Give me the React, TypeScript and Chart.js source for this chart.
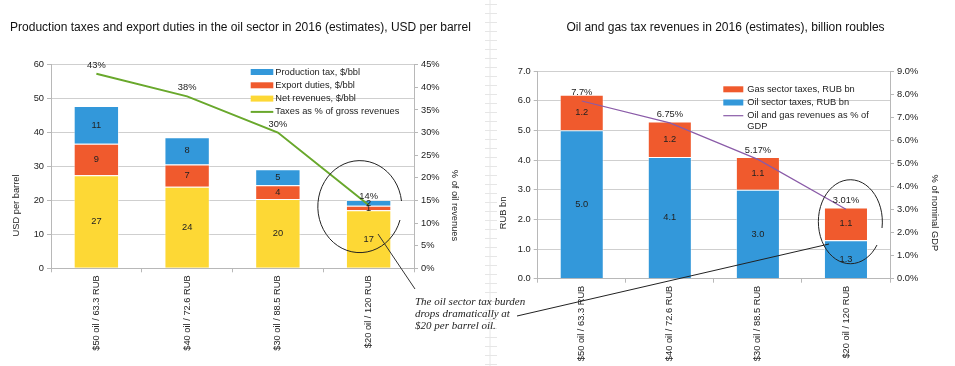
import React, { useEffect, useRef } from "react";
import { Chart, registerables } from "chart.js";

Chart.register(...registerables);

const FONT = '"Liberation Sans", Arial, Helvetica, sans-serif';
Chart.defaults.font.family = FONT;

// ---------- Left chart: USD per barrel ----------
const oilScenarios = ["$50 oil / 63.3 RUB", "$40 oil / 72.6 RUB", "$30 oil / 88.5 RUB", "$20 oil / 120 RUB"];
const netRevenues = [27.4, 24.0, 20.4, 17.1];
const exportDuties = [9.3, 6.6, 4.1, 1.3];
const productionTax = [11.1, 8.0, 4.7, 1.7];
const taxesShareOfRevenues = [43, 38, 30, 14];
const usdTicks = [0, 10, 20, 30, 40, 50, 60];
const revenueShareTicks = [0, 5, 10, 15, 20, 25, 30, 35, 40, 45];

// ---------- Right chart: billion roubles ----------
const oilSectorTaxes = [5.0, 4.1, 3.0, 1.3];
const gasSectorTaxes = [1.2, 1.2, 1.1, 1.1];
const revenuesShareOfGdp = [7.7, 6.75, 5.17, 3.01];
const rubTicks = [0, 1, 2, 3, 4, 5, 6, 7];
const gdpShareTicks = [0, 1, 2, 3, 4, 5, 6, 7, 8, 9];

const BLUE = "#3398da";
const RED = "#f05a2d";
const YELLOW = "#fdd835";
const GREEN = "#69a82c";
const PURPLE = "#8a5ba8";
const GRID = "#cfcfcf";
const AXIS = "#b8b8b8";
const TEXT = "#222";
const FS = 9.3;

const tickSet = (arr: number[]) => (s: any) => {
  s.ticks = arr.map((v) => ({ value: v }));
};

function valueLabels(fmtBar: (v: number) => string, fmtLine: (v: number) => string, lift: number) {
  return {
    id: "valueLabels",
    afterDatasetsDraw(chart: any) {
      const ctx = chart.ctx;
      ctx.save();
      ctx.font = `${FS}px ${FONT}`;
      ctx.fillStyle = TEXT;
      ctx.textAlign = "center";
      ctx.textBaseline = "middle";
      chart.data.datasets.forEach((ds: any, i: number) => {
        const meta = chart.getDatasetMeta(i);
        meta.data.forEach((el: any, j: number) => {
          const v = ds.data[j] as number;
          if (ds.type === "bar") {
            const p = el.getProps(["x", "y", "base"], true);
            ctx.fillText(fmtBar(v), p.x, (p.y + p.base) / 2);
          } else {
            ctx.fillText(fmtLine(v), el.x, el.y - lift);
          }
        });
      });
      ctx.restore();
    },
  };
}

function boxLegend(o: { dx: number; dy: number; row: number; boxW: number; boxH: number; gap: number; maxW: number; lineStep: number }) {
  return {
    id: "boxLegend",
    afterDraw(chart: any) {
      const { ctx, chartArea } = chart;
      const ds = chart.data.datasets;
      const items = [...ds.filter((d: any) => d.type === "bar").reverse(), ...ds.filter((d: any) => d.type === "line")];
      const x = chartArea.right - o.dx;
      let y = chartArea.top + o.dy;
      ctx.save();
      ctx.font = `${FS}px ${FONT}`;
      ctx.textAlign = "left";
      ctx.textBaseline = "middle";
      items.forEach((d: any) => {
        if (d.type === "line") {
          ctx.strokeStyle = d.borderColor;
          ctx.lineWidth = d.borderWidth;
          ctx.beginPath();
          ctx.moveTo(x, y);
          ctx.lineTo(x + o.boxW, y);
          ctx.stroke();
        } else {
          ctx.fillStyle = d.backgroundColor;
          ctx.fillRect(x, y - o.boxH / 2, o.boxW, o.boxH);
        }
        const words = String(d.label).split(" ");
        const lines: string[] = [];
        let cur = "";
        words.forEach((w) => {
          const t = cur ? cur + " " + w : w;
          if (ctx.measureText(t).width > o.maxW && cur) {
            lines.push(cur);
            cur = w;
          } else cur = t;
        });
        lines.push(cur);
        ctx.fillStyle = TEXT;
        lines.forEach((t, k) => ctx.fillText(t, x + o.boxW + o.gap, y + k * o.lineStep));
        y += o.row + (lines.length - 1) * o.lineStep;
      });
      ctx.restore();
    },
  };
}

function axisTitles(left: string, right: string, lx: number, rx: number, dy: number) {
  return {
    id: "axisTitles",
    afterDraw(chart: any) {
      const { ctx, chartArea } = chart;
      const cy = (chartArea.top + chartArea.bottom) / 2 + dy;
      ctx.save();
      ctx.font = `${FS}px ${FONT}`;
      ctx.fillStyle = TEXT;
      ctx.textAlign = "center";
      ctx.textBaseline = "middle";
      ctx.save();
      ctx.translate(chartArea.left - lx, cy);
      ctx.rotate(-Math.PI / 2);
      ctx.fillText(left, 0, 0);
      ctx.restore();
      ctx.save();
      ctx.translate(chartArea.right + rx, cy);
      ctx.rotate(Math.PI / 2);
      ctx.fillText(right, 0, 0);
      ctx.restore();
      ctx.restore();
    },
  };
}

function baseScales(o: {
  xH: number; yW: number; y1W: number;
  yTicks: number[]; y1Ticks: number[];
  yFmt: (v: number) => string; y1Fmt: (v: number) => string;
}) {
  const tickFont = { size: FS, family: FONT };
  return {
    x: {
      stacked: true,
      grid: { drawOnChartArea: false, color: AXIS, tickLength: 4 },
      border: { color: AXIS },
      ticks: { minRotation: 90, maxRotation: 90, autoSkip: false, font: tickFont, color: TEXT, padding: 3 },
      afterFit: (s: any) => { s.height = o.xH; },
    },
    y: {
      stacked: true,
      position: "left",
      min: o.yTicks[0],
      max: o.yTicks[o.yTicks.length - 1],
      grid: { color: GRID, tickLength: 4, tickColor: AXIS },
      border: { color: AXIS },
      ticks: { font: tickFont, color: TEXT, padding: 3, callback: (v: any) => o.yFmt(Number(v)) },
      afterBuildTicks: tickSet(o.yTicks),
      afterFit: (s: any) => { s.width = o.yW; },
    },
    y1: {
      position: "right",
      min: o.y1Ticks[0],
      max: o.y1Ticks[o.y1Ticks.length - 1],
      grid: { drawOnChartArea: false, color: AXIS, tickLength: 4 },
      border: { color: AXIS },
      ticks: { font: tickFont, color: TEXT, padding: 3, callback: (v: any) => o.y1Fmt(Number(v)) },
      afterBuildTicks: tickSet(o.y1Ticks),
      afterFit: (s: any) => { s.width = o.y1W; },
    },
  };
}

const barStyle = { borderColor: "rgba(255,255,255,0.45)", borderWidth: 1, barPercentage: 0.5, categoryPercentage: 1, order: 1, yAxisID: "y" };

export default function App() {
  const leftRef = useRef<HTMLCanvasElement>(null);
  const rightRef = useRef<HTMLCanvasElement>(null);

  useEffect(() => {
    const left = new Chart(leftRef.current as HTMLCanvasElement, {
      type: "bar",
      data: {
        labels: oilScenarios,
        datasets: [
          { type: "line", label: "Taxes as % of gross revenues", data: taxesShareOfRevenues, yAxisID: "y1", borderColor: GREEN, borderWidth: 2, pointRadius: 0, fill: false, order: 0 },
          { type: "bar", label: "Net revenues, $/bbl", data: netRevenues, backgroundColor: YELLOW, ...barStyle },
          { type: "bar", label: "Export duties, $/bbl", data: exportDuties, backgroundColor: RED, ...barStyle },
          { type: "bar", label: "Production tax, $/bbl", data: productionTax, backgroundColor: BLUE, ...barStyle },
        ] as any,
      },
      options: {
        responsive: false,
        animation: false,
        layout: { padding: 0 },
        plugins: {
          legend: { display: false },
          tooltip: { enabled: false },
          title: {
            display: true,
            text: "Production taxes and export duties in the oil sector in 2016 (estimates), USD per barrel",
            font: { size: 12, family: FONT, weight: "normal" },
            color: "#111",
            padding: { top: 20, bottom: 30.3 },
          },
        },
        scales: baseScales({
          xH: 97.7, yW: 51, y1W: 67,
          yTicks: usdTicks, y1Ticks: revenueShareTicks,
          yFmt: (v) => String(v), y1Fmt: (v) => v + "%",
        }) as any,
      },
      plugins: [
        valueLabels((v) => String(Math.round(v)), (v) => v + "%", 8.5),
        boxLegend({ dx: 163.3, dy: 7.3, row: 13.3, boxW: 22.6, boxH: 6, gap: 2, maxW: 200, lineStep: 10.5 }),
        axisTitles("USD per barrel", "% of oil revenues", 34.5, 41, 39),
      ],
    });

    const right = new Chart(rightRef.current as HTMLCanvasElement, {
      type: "bar",
      data: {
        labels: oilScenarios,
        datasets: [
          { type: "line", label: "Oil and gas revenues as % of GDP", data: revenuesShareOfGdp, yAxisID: "y1", borderColor: PURPLE, borderWidth: 1.2, pointRadius: 0, fill: false, order: 0 },
          { type: "bar", label: "Oil sector taxes, RUB bn", data: oilSectorTaxes, backgroundColor: BLUE, ...barStyle },
          { type: "bar", label: "Gas sector taxes, RUB bn", data: gasSectorTaxes, backgroundColor: RED, ...barStyle },
        ] as any,
      },
      options: {
        responsive: false,
        animation: false,
        layout: { padding: 0 },
        plugins: {
          legend: { display: false },
          tooltip: { enabled: false },
          title: {
            display: true,
            text: "Oil and gas tax revenues in 2016 (estimates), billion roubles",
            font: { size: 12, family: FONT, weight: "normal" },
            color: "#111",
            padding: { top: 20, bottom: 36.6 },
          },
        },
        scales: baseScales({
          xH: 87.3, yW: 41.7, y1W: 65,
          yTicks: rubTicks, y1Ticks: gdpShareTicks,
          yFmt: (v) => v.toFixed(1), y1Fmt: (v) => v.toFixed(1) + "%",
        }) as any,
      },
      plugins: [
        valueLabels((v) => v.toFixed(1), (v) => v + "%", 8.5),
        boxLegend({ dx: 166.7, dy: 18.3, row: 13.2, boxW: 20, boxH: 6, gap: 4, maxW: 130, lineStep: 10.5 }),
        axisTitles("RUB bn", "% of nominal GDP", 34.7, 45, 38),
      ],
    });

    return () => {
      left.destroy();
      right.destroy();
    };
  }, []);

  const rulerTicks: number[] = [];
  for (let y = 4; y < 366; y += 9) rulerTicks.push(y);

  return (
    <div style={{ position: "fixed", left: 0, top: 0, width: 955, height: 366, background: "#fff", overflow: "hidden" }}>
      <svg width={955} height={366} style={{ position: "absolute", left: 0, top: 0 }}>
        <line x1={490} y1={0} x2={490} y2={366} stroke="#e6e6e6" strokeWidth={1} />
        {rulerTicks.map((y) => (
          <line key={y} x1={485} y1={y + 0.5} x2={497} y2={y + 0.5} stroke="#e6e6e6" strokeWidth={1} />
        ))}
      </svg>
      <canvas ref={leftRef} width={481} height={366} style={{ position: "absolute", left: 0, top: 0, width: 481, height: 366 }} />
      <canvas ref={rightRef} width={459} height={366} style={{ position: "absolute", left: 496, top: 0, width: 459, height: 366 }} />
      <svg width={955} height={366} style={{ position: "absolute", left: 0, top: 0, pointerEvents: "none" }}>
        <path d="M 401.5 201 A 42 46 0 1 0 400 220" fill="none" stroke="#222" strokeWidth={1} />
        <line x1={378} y1={234} x2={415} y2={289} stroke="#333" strokeWidth={1} />
        <line x1={517} y1={316} x2={829} y2={244} stroke="#222" strokeWidth={1} />
        <path d="M 882 228 A 32 42 0 1 0 877 245" fill="none" stroke="#222" strokeWidth={1} />
        <text fontFamily='"Liberation Serif", "Times New Roman", serif' fontStyle="italic" fontSize={11} fill="#222">
          <tspan x={415} y={304.5}>The oil sector tax burden</tspan>
          <tspan x={415} y={316.8}>drops dramatically at</tspan>
          <tspan x={415} y={329}>$20 per barrel oil.</tspan>
        </text>
      </svg>
    </div>
  );
}
